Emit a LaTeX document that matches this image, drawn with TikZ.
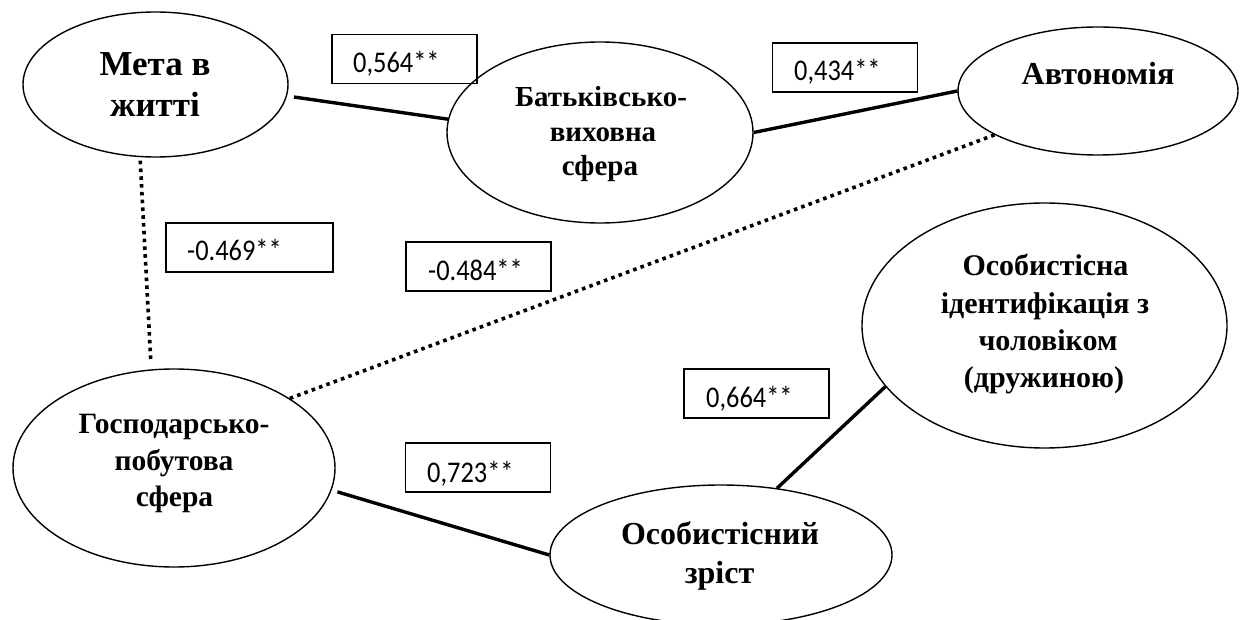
\documentclass[tikz,border=0pt]{standalone}
\usepackage{fontspec}
\setmainfont{Liberation Serif}
\newfontfamily\numfont{Carlito}[FakeStretch=0.88]
\usetikzlibrary{shapes.geometric}
\begin{document}
\begin{tikzpicture}[x=1pt,y=-1pt,
  oval/.style={draw, ellipse, line width=1.4pt, inner sep=0pt},
  numbox/.style={draw, rectangle, line width=1.3pt, inner sep=0pt, minimum width=145pt, minimum height=49pt},
  numtxt/.style={anchor=base west, inner sep=0pt, font=\numfont\fontsize{30}{30}\selectfont},
  tx/.style={anchor=base, inner sep=0pt},
  fa/.style={font=\bfseries\fontsize{35}{35}\selectfont},
  fb/.style={font=\bfseries\fontsize{29}{29}\selectfont},
  fc/.style={font=\bfseries\fontsize{32}{32}\selectfont},
  fi/.style={font=\bfseries\fontsize{30}{30}\selectfont},
  fd/.style={font=\bfseries\fontsize{29.5}{29.5}\selectfont},
  fe/.style={font=\bfseries\fontsize{32}{32}\selectfont},
  solidlink/.style={line width=3.4pt},
  dotlink/.style={line width=3.6pt, dash pattern=on 3.6pt off 4.2pt}]
\useasboundingbox (0,0) rectangle (1242,620);

% ellipses
\node[oval, minimum width=265pt, minimum height=145pt] (meta) at (155.5,84.5) {};
\node[oval, minimum width=306pt, minimum height=181pt] (batk) at (600,132.5) {};
\node[oval, minimum width=280pt, minimum height=128pt] (avt) at (1098,91) {};
\node[oval, minimum width=365pt, minimum height=245pt] (ident) at (1044.5,325.5) {};
\node[oval, minimum width=322pt, minimum height=198pt] (gosp) at (174,468) {};
\node[oval, minimum width=342pt, minimum height=140pt] (zrist) at (721,555) {};

% texts in ellipses
\node[tx,fa] (meta1) at (155,76) {Мета в};
\node[tx,fa] (meta2) at (155,117) {житті};
\node[tx,fb] (batk1) at (601,106.5) {Батьківсько-};
\node[tx,fb] (batk2) at (603,141.5) {виховна};
\node[tx,fb] (batk3) at (600,176) {сфера};
\node[tx,fc] (avt1) at (1098,85) {Автономія};
\node[tx,fi] (ident1) at (1045.5,276) {Особистісна};
\node[tx,fi] (ident2) at (1045,313) {ідентифікація з};
\node[tx,fi] (ident3) at (1048,350) {чоловіком};
\node[tx,fi] (ident4) at (1044,387) {(дружиною)};
\node[tx,fd] (gosp1) at (174,433) {Господарсько-};
\node[tx,fd] (gosp2) at (174,470) {побутова};
\node[tx,fd] (gosp3) at (174.5,506) {сфера};
\node[tx,fe] (zrist1) at (720,544) {Особистісний};
\node[tx,fe] (zrist2) at (719.5,583) {зріст};

% coefficient boxes
\node[numbox] (b1) at (404.5,59) {};
\node[numtxt] (b1t) at (353,73) {0,564**};
\node[numbox] (b2) at (845,67.5) {};
\node[numtxt] (b2t) at (794,81) {0,434**};
\node[numbox, minimum width=167pt] (b3) at (249.5,247.5) {};
\node[numtxt] (b3t) at (187,261) {-0.469**};
\node[numbox] (b4) at (478.5,266.5) {};
\node[numtxt] (b4t) at (428,281) {-0.484**};
\node[numbox] (b5) at (756.5,393.5) {};
\node[numtxt] (b5t) at (706,407) {0,664**};
\node[numbox] (b6) at (478,467.5) {};
\node[numtxt] (b6t) at (427,482) {0,723**};

% connectors
\draw[solidlink, shorten <=7pt] (meta.-5.6) -- (batk.175.6);
\draw[solidlink] (batk.east) -- (avt.west);
\draw[dotlink, shorten <=3.5pt, shorten >=7pt] (meta.258.4) -- (gosp.103.65);
\draw[dotlink] (gosp.31.8) -- (avt.203.1);
\draw[solidlink, shorten <=6pt] (gosp.-8.4) -- (zrist.west);
\draw[solidlink] (zrist.50) -- (ident.201.8);
\end{tikzpicture}
\end{document}
